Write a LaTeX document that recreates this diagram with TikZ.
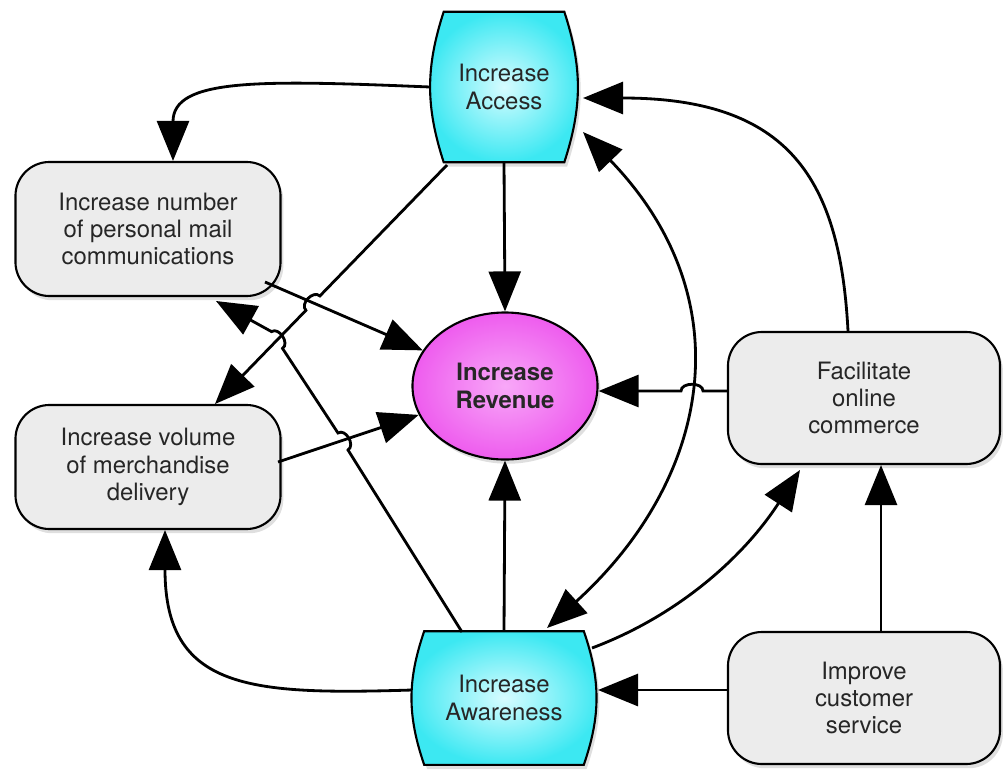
\documentclass[tikz,border=0pt]{standalone}
\usepackage{fontspec}
\setmainfont{TeX Gyre Heros}
\usetikzlibrary{shapes.geometric,arrows.meta,calc,shadows,backgrounds}
\definecolor{cyanedge}{RGB}{60,232,242}
\definecolor{cyanmid}{RGB}{215,252,255}
\definecolor{magedge}{RGB}{238,92,238}
\definecolor{magmid}{RGB}{248,168,248}
\definecolor{boxgray}{RGB}{236,236,236}

\begin{document}
\begin{tikzpicture}[x=0.025cm, y=-0.025cm,
        every node/.style={font=\fontsize{17}{19.5}\selectfont, text=black!85, align=center},
        goal/.style={rectangle, inner sep=0pt},
        goalshape/.style={draw, line width=1.5pt, inner color=cyanmid, outer color=cyanedge,
            drop shadow={opacity=0.25, shadow xshift=2pt, shadow yshift=-3pt}},
        target/.style={ellipse, draw, line width=1.5pt, inner sep=0pt,
            inner color=magmid, outer color=magedge,
            drop shadow={opacity=0.25, shadow xshift=2pt, shadow yshift=-3pt}},
        sub/.style={rectangle, rounded corners=0.85cm, draw, line width=1.5pt, fill=boxgray,
            drop shadow={opacity=0.25, shadow xshift=2pt, shadow yshift=-3pt}},
        arr/.style={line width=2pt, -{Triangle[length=1cm, width=0.8cm]}},
        biarr/.style={line width=2pt, {Triangle[length=1cm, width=0.8cm]}-{Triangle[length=1cm, width=0.8cm]}}]
            \useasboundingbox (0,0) rectangle (1004,769);

            \node (acc) [goal, minimum width=3cm, minimum height=3.75cm] at (504,87) {Increase\\Access};
            \node (aw) [goal, minimum width=3.975cm, minimum height=3.325cm] at (504,698) {Increase\\Awareness};
            \node (rev) [target, minimum width=4.625cm, minimum height=3.675cm] at (505,386) {\textbf{Increase}\\\textbf{Revenue}};
            \node (mail) [sub, minimum width=6.625cm, minimum height=3.35cm] at (148,229) {Increase number\\of personal mail\\communications};
            \node (del) [sub, minimum width=6.625cm, minimum height=3.1cm] at (148,467) {Increase volume\\of merchandise\\delivery};
            \node (fac) [sub, minimum width=6.8cm, minimum height=3.3cm] at (864,398) {Facilitate\\online\\commerce};
            \node (svc) [sub, minimum width=6.8cm, minimum height=3.3cm] at (864,698) {Improve\\customer\\service};

            \begin{scope}[on background layer]
                \path[goalshape] (acc.north west) -- (acc.north east) to[bend left=18] (acc.south east)
                    -- (acc.south west) to[bend left=18] (acc.north west) -- cycle;
                \path[goalshape] (aw.north west) -- (aw.north east) to[bend left=19] (aw.south east)
                    -- (aw.south west) to[bend left=19] (aw.north west) -- cycle;
            \end{scope}

            \coordinate (adS) at ($(acc)+(-57,78)$);
            \coordinate (adE) at ($(del)+(67,-63)$);
            \coordinate (wmS) at ($(aw)+(-42,-66)$);
            \coordinate (wmE) at ($(mail)+(68,72)$);

            \draw[arr] ($(acc)+(-74,0)$) .. controls (260,80) and (173,78) .. ($(mail.north)+(25,0)$);
            \draw[arr] (acc.south) -- (rev.north);
            \draw[arr] (adS) -- ($(adS)!0.548!(adE)$) .. controls +(-6.5,-6.3) and +(-6.5,-6.3) .. ($(adS)!0.608!(adE)$) -- (adE);
            \draw[arr] ($(mail)+(117,53)$) -- (rev);
            \draw[arr] ($(del)+(130,-5)$) -- (rev);
            \draw[arr] (wmS) -- (348,450) .. controls +(7.6,-4.8) and +(7.6,-4.8) .. (338,433)
                -- (282.5,348.4) .. controls +(7.5,-4.9) and +(7.5,-4.9) .. (271.5,331.6) -- (wmE);
            \draw[arr] ($(fac.west)+(0,-7)$) -- (703,391) .. controls +(0,-9) and +(0,-9) .. (681,391) -- ($(rev.east)+(0,5)$);
            \draw[arr] ($(fac.north)+(-16,0)$) .. controls (840,180) and (790,98) .. ($(acc)+(79,11)$);
            \draw[biarr] ($(aw)+(43,-70)$) .. controls (710,480) and (745,300) .. ($(acc)+(79,45)$);
            \draw[arr] ($(aw)+(88,-50)$) .. controls (680,615) and (745,555) .. ($(fac)+(-64,72)$);
            \draw[arr] ($(svc.north)+(17,0)$) -- ($(fac.south)+(17,0)$);
            \draw[arr] ($(svc.west)+(0,-8)$) -- ($(aw)+(94,-8)$);
            \draw[arr] (aw.north) -- (rev.south);
            \draw[arr] ($(aw)+(-92,-8)$) .. controls (250,695) and (165,690) .. ($(del.south)+(17,0)$);
        \end{tikzpicture}
\end{document}
